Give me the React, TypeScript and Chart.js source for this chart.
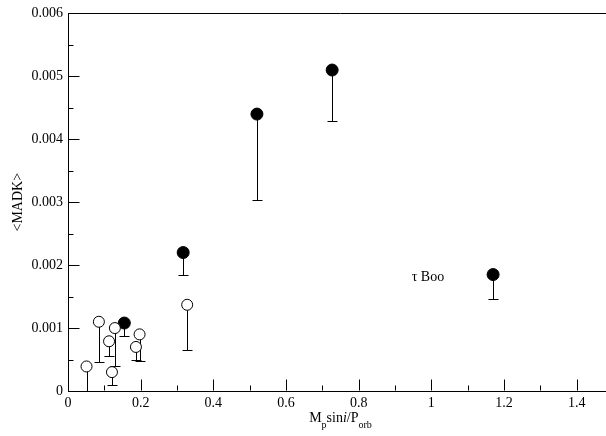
import React, { useEffect, useRef } from 'react';
import { Chart, registerables } from 'chart.js';
Chart.register(...registerables);

// ---- data ----
const openX = [0.051, 0.085, 0.113, 0.129, 0.121, 0.197, 0.187, 0.328];
const openY = [0.00039, 0.0011, 0.00079, 0.001, 0.0003, 0.0009, 0.0007, 0.00137];
const openLow = [0.0, 0.000455, 0.00056, 0.00039, 0.0001, 0.00047, 0.0005, 0.00065];

const filledX = [0.155, 0.317, 0.52, 0.727, 1.17];
const filledY = [0.00108, 0.0022, 0.0044, 0.0051, 0.00185];
const filledLow = [0.00087, 0.00185, 0.00303, 0.00429, 0.00146];

const xMajorTicks = [0, 0.2, 0.4, 0.6, 0.8, 1.0, 1.2, 1.4];
const xTickLabels = ['0', '0.2', '0.4', '0.6', '0.8', '1', '1.2', '1.4'];
const xMinorTicks = [0.1, 0.3, 0.5, 0.7, 0.9, 1.1, 1.3];

const yMajorTicks = [0, 0.001, 0.002, 0.003, 0.004, 0.005, 0.006];
const yTickLabels = ['0', '0.001', '0.002', '0.003', '0.004', '0.005', '0.006'];
const yMinorTicks = [0.0005, 0.0015, 0.0025, 0.0035, 0.0045, 0.0055];

const annotationText = 'τ Boo';
const annotationX = 0.946;
const annotationY = 0.00181;

const FONT = "'Liberation Serif', 'Times New Roman', 'DejaVu Serif', serif";

const errorBarPlugin = {
  id: 'lowerErrorBars',
  beforeDatasetsDraw(chart: any) {
    const { ctx } = chart;
    const xs = chart.scales.x;
    const ys = chart.scales.y;
    ctx.save();
    ctx.strokeStyle = '#000';
    ctx.lineWidth = 1;
    chart.data.datasets.forEach((ds: any) => {
      const low: number[] = ds.lower || [];
      ds.data.forEach((p: any, i: number) => {
        const px = Math.round(xs.getPixelForValue(p.x)) + 0.5;
        const py0 = ys.getPixelForValue(p.y);
        const py1 = Math.round(ys.getPixelForValue(low[i])) + 0.5;
        ctx.beginPath();
        ctx.moveTo(px, py0);
        ctx.lineTo(px, py1);
        ctx.moveTo(px - 5, py1);
        ctx.lineTo(px + 5, py1);
        ctx.stroke();
      });
    });
    ctx.restore();
  },
};

const frameAndTicksPlugin = {
  id: 'frameAndTicks',
  afterDraw(chart: any) {
    const { ctx, chartArea } = chart;
    const xs = chart.scales.x;
    const ys = chart.scales.y;
    ctx.save();
    ctx.strokeStyle = '#000';
    ctx.lineWidth = 1;
    const left = Math.round(chartArea.left) + 0.5;
    const right = Math.round(chartArea.right) - 0.5;
    const top = Math.round(chartArea.top) + 0.5;
    const bottom = Math.round(chartArea.bottom) - 0.5;
    ctx.beginPath();
    ctx.moveTo(left, top);
    ctx.lineTo(right, top);
    ctx.lineTo(right, bottom);
    ctx.stroke();
    // x ticks (inward)
    const drawX = (vals: number[], len: number) => {
      vals.forEach((v) => {
        const px = Math.round(xs.getPixelForValue(v)) + 0.5;
        ctx.beginPath();
        ctx.moveTo(px, bottom);
        ctx.lineTo(px, bottom - len);
        ctx.stroke();
      });
    };
    const drawY = (vals: number[], len: number) => {
      vals.forEach((v) => {
        const py = Math.round(ys.getPixelForValue(v)) + 0.5;
        ctx.beginPath();
        ctx.moveTo(left, py);
        ctx.lineTo(left + len, py);
        ctx.stroke();
      });
    };
    drawX(xMajorTicks, 11);
    drawX(xMinorTicks, 5);
    drawY(yMajorTicks, 11);
    drawY(yMinorTicks, 5);

    // annotation
    ctx.fillStyle = '#000';
    ctx.font = `14px ${FONT}`;
    ctx.textAlign = 'left';
    ctx.textBaseline = 'middle';
    ctx.fillText(annotationText, xs.getPixelForValue(annotationX), ys.getPixelForValue(annotationY));

    // x axis title with subscripts / italic
    const parts = [
      { t: 'M', size: 14, italic: false, dy: 0 },
      { t: 'p', size: 10, italic: false, dy: 6 },
      { t: 'sin', size: 14, italic: false, dy: 0 },
      { t: 'i', size: 14, italic: true, dy: 0 },
      { t: '/P', size: 14, italic: false, dy: 0 },
      { t: 'orb', size: 10, italic: false, dy: 6 },
    ];
    let total = 0;
    const widths = parts.map((p) => {
      ctx.font = `${p.italic ? 'italic ' : ''}${p.size}px ${FONT}`;
      const w = ctx.measureText(p.t).width;
      total += w;
      return w;
    });
    let cx = (chartArea.left + chartArea.right) / 2 - total / 2;
    const baseY = xs.bottom - 14;
    ctx.textBaseline = 'alphabetic';
    parts.forEach((p, i) => {
      ctx.font = `${p.italic ? 'italic ' : ''}${p.size}px ${FONT}`;
      ctx.fillText(p.t, cx, baseY + p.dy);
      cx += widths[i];
    });
    ctx.restore();
  },
};

export default function App() {
  const ref = useRef<HTMLCanvasElement | null>(null);
  useEffect(() => {
    if (!ref.current) return;
    const chart = new Chart(ref.current, {
      type: 'scatter',
      data: {
        datasets: [
          {
            label: 'open',
            data: openX.map((x, i) => ({ x, y: openY[i] })),
            lower: openLow,
            pointRadius: 5.5,
            pointBackgroundColor: '#fff',
            pointBorderColor: '#000',
            pointBorderWidth: 1,
          } as any,
          {
            label: 'filled',
            data: filledX.map((x, i) => ({ x, y: filledY[i] })),
            lower: filledLow,
            pointRadius: 6,
            pointBackgroundColor: '#000',
            pointBorderColor: '#000',
            pointBorderWidth: 1,
          } as any,
        ],
      },
      options: {
        responsive: false,
        animation: false,
        events: [],
        layout: { padding: { top: 8, right: 27, left: 0, bottom: 0 } },
        plugins: { legend: { display: false }, tooltip: { enabled: false } },
        scales: {
          x: {
            type: 'linear',
            min: 0,
            max: 1.5,
            grid: { display: false, drawTicks: false, tickLength: 0 },
            border: { display: true, color: '#000', width: 1 },
            afterBuildTicks: (scale: any) => {
              scale.ticks = xMajorTicks.map((v) => ({ value: v }));
            },
            afterFit: (scale: any) => {
              scale.height = 45;
            },
            ticks: {
              color: '#000',
              padding: 4,
              maxRotation: 0,
              autoSkip: false,
              font: { family: FONT, size: 14 },
              callback: (_v: any, i: number) => xTickLabels[i],
            },
          },
          y: {
            type: 'linear',
            min: 0,
            max: 0.006,
            grid: { display: false, drawTicks: false, tickLength: 0 },
            border: { display: true, color: '#000', width: 1 },
            afterBuildTicks: (scale: any) => {
              scale.ticks = yMajorTicks.map((v) => ({ value: v }));
            },
            afterFit: (scale: any) => {
              scale.width = 68;
            },
            title: {
              display: true,
              text: '<MADK>',
              color: '#000',
              font: { family: FONT, size: 14 },
              padding: { top: 10, bottom: 0 },
            },
            ticks: {
              color: '#000',
              padding: 5,
              autoSkip: false,
              font: { family: FONT, size: 14 },
              callback: (_v: any, i: number) => yTickLabels[i],
            },
          },
        },
      },
      plugins: [errorBarPlugin, frameAndTicksPlugin],
    } as any);
    return () => chart.destroy();
  }, []);

  return (
    <div
      style={{
        position: 'fixed',
        left: 0,
        top: 0,
        width: 606,
        height: 436,
        overflow: 'hidden',
        background: '#fff',
      }}
    >
      <canvas ref={ref} width={640} height={436} style={{ display: 'block' }} />
    </div>
  );
}
